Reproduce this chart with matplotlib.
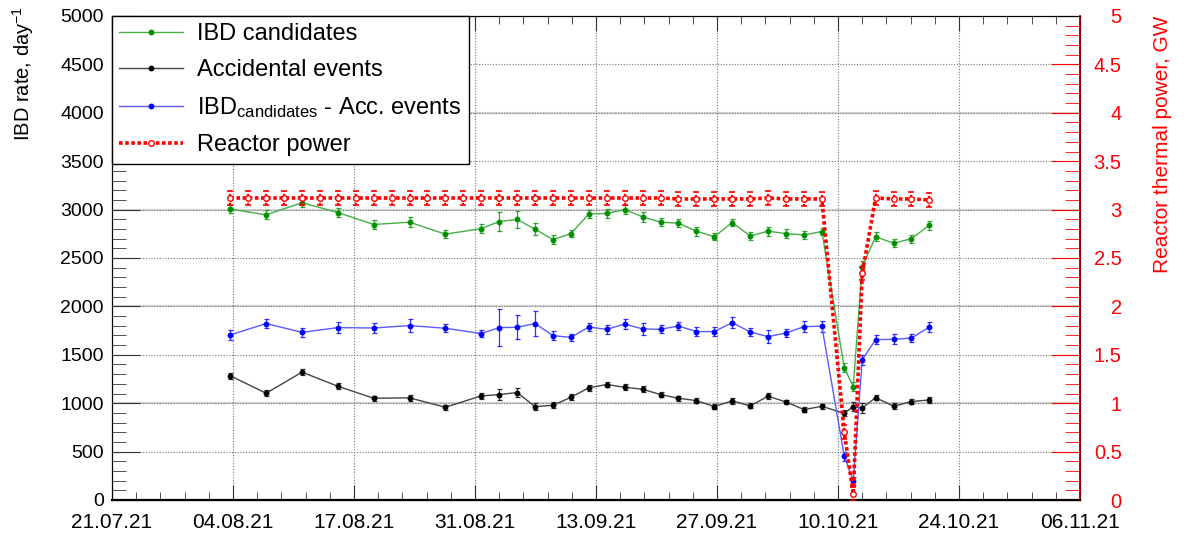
import numpy as np
import matplotlib
matplotlib.use("Agg")
import matplotlib.pyplot as plt
from matplotlib.ticker import MultipleLocator, FixedLocator

# x positions: days after 21.07.21 12:00 (axis runs 0..108 days)
days = [13.2, 17.2, 21.2, 25.2, 29.2, 33.2, 37.2, 41.2,
        43.2, 45.2, 47.2, 49.2, 51.2, 53.2, 55.2, 57.2, 59.2, 61.2, 63.2,
        65.2, 67.2, 69.2, 71.2, 73.2, 75.2, 77.2, 79.2,
        81.7, 82.7, 83.7, 85.2, 87.2, 89.2, 91.2]

ibd = [3005, 2946, 3071, 2970, 2846, 2870, 2746, 2804,
       2877, 2898, 2798, 2690, 2752, 2955, 2960, 3001, 2925, 2870, 2860,
       2777, 2721, 2866, 2728, 2777, 2752, 2739, 2773,
       1366, 1172, 2410, 2721, 2652, 2700, 2839]
ibd_err = [45, 45, 40, 45, 45, 50, 40, 45,
           100, 85, 60, 45, 40, 45, 45, 45, 50, 40, 40,
           45, 40, 40, 40, 45, 45, 40, 40,
           45, 45, 55, 45, 40, 40, 45]

acc = [1283, 1103, 1321, 1175, 1051, 1055, 958, 1076,
       1089, 1110, 965, 978, 1061, 1159, 1193, 1165, 1144, 1089, 1051,
       1027, 965, 1024, 972, 1072, 1013, 934, 968,
       895, 965, 951, 1058, 968, 1017, 1034]
acc_err = [30, 30, 30, 30, 25, 30, 25, 30,
           55, 50, 40, 30, 30, 30, 30, 30, 30, 30, 25,
           25, 25, 30, 25, 30, 25, 25, 25,
           30, 50, 50, 25, 30, 25, 30]

sig = [1705, 1823, 1732, 1781, 1777, 1802, 1774, 1719,
       1781, 1784, 1823, 1698, 1680, 1787, 1763, 1818, 1767, 1763, 1798,
       1740, 1740, 1833, 1736, 1688, 1725, 1791, 1795,
       453, 197, 1449, 1657, 1660, 1673, 1787]
sig_err = [50, 45, 45, 55, 55, 65, 40, 35,
           190, 125, 125, 50, 40, 45, 45, 55, 60, 40, 45,
           45, 45, 55, 40, 65, 45, 55, 55,
           45, 45, 50, 45, 50, 45, 50]

p_days = [13.2, 15.2, 17.2, 19.2, 21.2, 23.2, 25.2, 27.2, 29.2, 31.2,
          33.2, 35.2, 37.2, 39.2, 41.2, 43.2, 45.2, 47.2, 49.2, 51.2,
          53.2, 55.2, 57.2, 59.2, 61.2, 63.2, 65.2, 67.2, 69.2, 71.2,
          73.2, 75.2, 77.2, 79.2, 81.7, 82.7, 83.7, 85.2, 87.2, 89.2, 91.2]
power = [3.12, 3.12, 3.12, 3.12, 3.12, 3.12, 3.12, 3.12, 3.12, 3.12,
         3.12, 3.12, 3.12, 3.12, 3.12, 3.12, 3.12, 3.12, 3.12, 3.12,
         3.12, 3.12, 3.12, 3.12, 3.12, 3.11, 3.11, 3.11, 3.11, 3.11,
         3.12, 3.11, 3.11, 3.11, 0.70, 0.06, 2.34, 3.12, 3.11, 3.11, 3.10]
power_err = [0.07] * len(power)

tick_days = [0, 13.5, 27, 40.5, 54, 67.5, 81, 94.5, 108]
tick_labels = ['21.07.21', '04.08.21', '17.08.21', '31.08.21', '13.09.21',
               '27.09.21', '10.10.21', '24.10.21', '06.11.21']

plt.rcParams['font.family'] = ['Liberation Sans', 'DejaVu Sans']
plt.rcParams['mathtext.fontset'] = 'custom'
plt.rcParams['mathtext.rm'] = 'Liberation Sans'
plt.rcParams['mathtext.it'] = 'Liberation Sans:italic'

fig = plt.figure(figsize=(11.86, 5.44), dpi=100)
ax = fig.add_axes([112 / 1186, 1 - 500 / 544, 968 / 1186, 484 / 544])
ax2 = ax.twinx()

# light grid from the power axis (integer GW) and dotted main grid
for v in [1000, 2000, 3000, 4000]:
    ax.axhline(v, color='#d4d4d4', lw=1.6, zorder=0)
ax.grid(True, which='major', color='#777777', ls=(0, (1, 1.5)), lw=0.8)
ax.set_axisbelow(True)

series = [
    (ibd, ibd_err, '#44b044', '#009000', 'IBD candidates'),
    (acc, acc_err, '#444444', '#000000', 'Accidental events'),
    (sig, sig_err, '#5a5aff', '#0000ff',
     r'IBD$_{\mathrm{candidates}}$ - Acc. events'),
]
handles = []
for vals, errs, lc, mc, lab in series:
    ax.errorbar(days, vals, yerr=errs, fmt='none', ecolor=mc, elinewidth=0.9,
                capsize=1.8, capthick=0.9, alpha=0.8, zorder=3)
    h, = ax.plot(days, vals, color=lc, lw=1.0, marker='o', ms=3.2,
                 mfc=mc, mec=mc, label=lab, zorder=4)
    handles.append(h)

eb = ax2.errorbar(p_days, power, yerr=power_err, fmt='none', ecolor='red',
                  elinewidth=1.6, capsize=2.2, capthick=1.2, zorder=5)
eb[2][0].set_linestyle((0, (1, 1)))
hp, = ax2.plot(p_days, power, color='red', lw=2.6, ls=(0, (1, 0.7)),
               marker='o', ms=4, mfc='white', mec='red', mew=1.0,
               label='Reactor power', zorder=6)
handles.append(hp)

ax.set_xlim(0, 108)
ax.set_ylim(0, 5000)
ax2.set_ylim(0, 5)

ax.xaxis.set_major_locator(FixedLocator(tick_days))
ax.set_xticklabels(tick_labels)
ax.xaxis.set_minor_locator(MultipleLocator(2.7))
ax.yaxis.set_major_locator(MultipleLocator(500))
ax.yaxis.set_minor_locator(MultipleLocator(100))
ax2.set_yticks(np.arange(0, 5.01, 0.5))
ax2.set_yticklabels([('%g' % t) for t in np.arange(0, 5.01, 0.5)])
ax2.yaxis.set_minor_locator(MultipleLocator(0.1))

ax.tick_params(axis='x', which='both', direction='in', top=True,
               color='#333333', labelsize=15, pad=9)
ax.tick_params(axis='x', which='major', length=11)
ax.tick_params(axis='x', which='minor', length=5.5)
ax.tick_params(axis='y', which='both', direction='in', right=False,
               color='#333333', labelsize=14, pad=6)
ax.tick_params(axis='y', which='major', length=20)
ax.tick_params(axis='y', which='minor', length=10)
ax2.tick_params(axis='y', which='both', direction='in', colors='red',
                labelsize=14.5, pad=30)
ax2.tick_params(axis='y', which='major', length=21)
ax2.tick_params(axis='y', which='minor', length=11)
for lab in ax2.get_yticklabels():
    lab.set_horizontalalignment('right')

for s in ['left', 'top']:
    ax.spines[s].set_color('#444444')
ax.spines['bottom'].set_linewidth(1.6)
ax2.spines['right'].set_color('#990000')
ax2.spines['right'].set_linewidth(1.3)

leg = ax2.legend(handles=handles, loc='upper left', bbox_to_anchor=(0, 1),
                 borderaxespad=0, fontsize=17, frameon=True, fancybox=False,
                 edgecolor='black', framealpha=1, handlelength=2.7,
                 handletextpad=0.6, labelspacing=0.6, borderpad=0.3)
leg.get_frame().set_linewidth(1.0)

fig.text(23 / 1186, 1 - 6 / 544, 'IBD rate, day$^{-1}$', rotation=90,
         ha='center', va='top', fontsize=14.5)
fig.text(1163 / 1186, 1 - 16 / 544, 'Reactor thermal power, GW', rotation=90,
         ha='center', va='top', fontsize=15, color='red')

fig.savefig('out.png', dpi=100)
